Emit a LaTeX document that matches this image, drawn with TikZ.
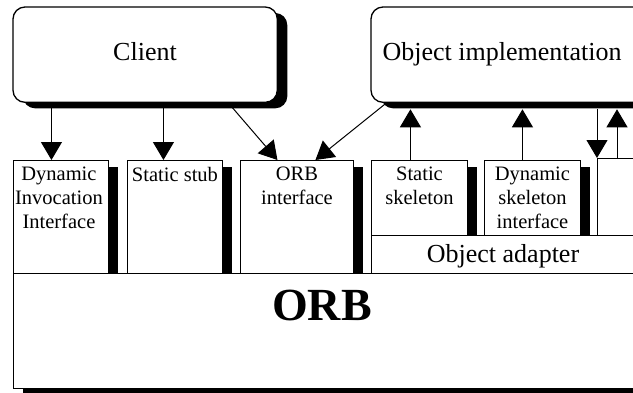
\documentclass[tikz,border=0pt]{standalone}
\usepackage{fontspec}
\setmainfont{Liberation Serif}
\usetikzlibrary{arrows.meta,calc}
\begin{document}
\begin{tikzpicture}[x=1pt,y=-1pt,
  rbox/.style={draw, line width=1.3pt, rounded corners=12pt, fill=white, inner sep=0pt, anchor=north west},
  sbox/.style={draw, line width=0.9pt, fill=white, inner sep=0pt, anchor=north west},
  bigtxt/.style={font=\fontsize{26}{30}\selectfont, inner sep=0pt, anchor=base},
  smtxt/.style={font=\fontsize{20.5}{24}\selectfont, inner sep=0pt, anchor=north, align=center},
  arr/.style={line width=1pt, -{Triangle[width=21pt,length=18pt]}},
]
\useasboundingbox (0,0) rectangle (633,392);
\begin{scope}
\clip (0,0) rectangle (633,392);
% ORB base
\fill (23,278) rectangle (683,394);
\node[sbox, minimum width=660pt, minimum height=115pt] (orb) at (13,273) {};
\node[sbox, minimum width=300pt, minimum height=38pt] (adapter) at (371,235) {};
% rounded boxes with shadows
\node[rbox, minimum width=263pt, minimum height=94pt, draw=none, fill=none] (client) at (13,7) {};
\node[rbox, minimum width=280pt, minimum height=94pt, draw=none, fill=none] (obj) at (371,7) {};
\fill[rounded corners=12pt] ($(client.north west)+(10,6)$) rectangle ($(client.south east)+(10,6)$);
\fill[rounded corners=12pt] ($(obj.north west)+(10,6)$) rectangle ($(obj.south east)+(10,6)$);
\draw[line width=1.3pt, rounded corners=12pt, fill=white] (client.north west) rectangle (client.south east);
\draw[line width=1.3pt, rounded corners=12pt, fill=white] (obj.north west) rectangle (obj.south east);
\coordinate (objshadow) at ($(obj.south)+(0,7)$);
% small boxes
\node[sbox, minimum width=95pt, minimum height=113pt] (dii) at (13,160) {};
\node[sbox, minimum width=95pt, minimum height=113pt] (stub) at (127,160) {};
\node[sbox, minimum width=113pt, minimum height=113pt] (orbi) at (240,160) {};
\node[sbox, minimum width=96pt, minimum height=75pt] (sskel) at (371,160) {};
\node[sbox, minimum width=96pt, minimum height=75pt] (dskel) at (484,160) {};
\node[sbox, minimum width=70pt, minimum height=77pt] (part) at (597,158) {};
% bars
\foreach \b in {dii,stub,orbi,sskel,dskel}{
  \fill ($(\b.north east)+(0.4,7)$) rectangle ($(\b.south east)+(9.5,0)$);
}
% texts
\node[bigtxt] (tclient) at (145,60) {Client};
\node[bigtxt] (tobj) at (502,60) {Object implementation};
\node[bigtxt] (tadapt) at (503,262) {Object adapter};
\node[font=\fontsize{46}{50}\selectfont\bfseries, inner sep=0pt, anchor=base] (torb) at (322,320) {ORB};
\node[smtxt] (tdii) at ($(dii.north)+(-2,7)$) {Dynamic\\Invocation\\Interface};
\node[smtxt] (tstub) at ($(stub.north)+(0,7)$) {Static stub};
\node[smtxt] (torbi) at ($(orbi.north)+(0,7)$) {ORB\\interface};
\node[smtxt] (tsskel) at ($(sskel.north)+(0,7)$) {Static\\skeleton};
\node[smtxt] (tdskel) at ($(dskel.north)+(0,7)$) {Dynamic\\skeleton\\interface};
% arrows
\draw[arr] ([xshift=-9.5pt]dii.north |- client.south) -- ([xshift=-9.5pt]dii.north);
\draw[arr] ([xshift=-11.5pt]stub.north |- client.south) -- ([xshift=-11.5pt]stub.north);
\draw[arr] ($(client.south)+(83.5,1)$) -- ($(orbi.north)+(-19.5,0)$);
\draw[arr] ($(obj.south west)+(15,1)$) -- ($(orbi.north)+(18.5,0)$);
\draw[arr] ([xshift=-9pt]sskel.north) -- ([xshift=-9pt]sskel.north |- objshadow);
\draw[arr] ([xshift=-10pt]dskel.north) -- ([xshift=-10pt]dskel.north |- objshadow);
\draw[arr] (part.north west |- objshadow) -- (part.north west);
\draw[arr] ([xshift=20pt]part.north west) -- ([xshift=20pt]part.north west |- objshadow);
\end{scope}
\end{tikzpicture}
\end{document}
